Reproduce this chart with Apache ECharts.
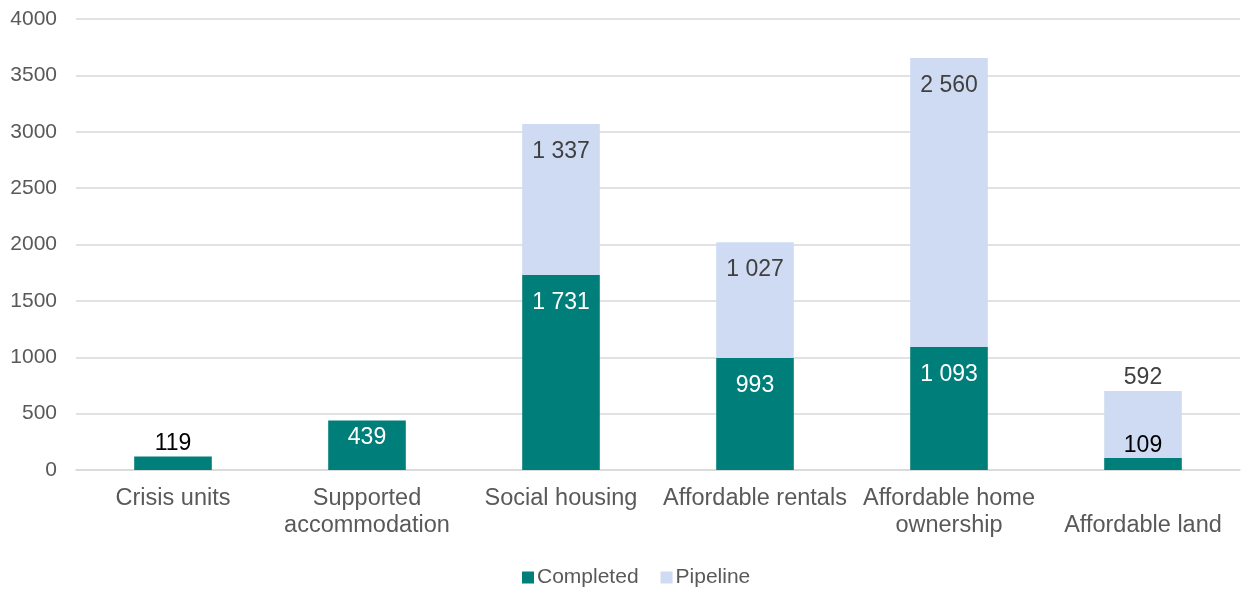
<!DOCTYPE html>
<html>
<head>
<meta charset="utf-8">
<script src="https://cdn.jsdelivr.net/npm/echarts@6/dist/echarts.min.js"></script>
<style>
  html, body { margin: 0; padding: 0; background: #fff; }
  #chart { width: 1246px; height: 590px; }
</style>
</head>
<body>
<div id="chart"></div>
<script>
var categories = ['Crisis units', 'Supported accommodation', 'Social housing', 'Affordable rentals', 'Affordable home ownership', 'Affordable land'];
var completed = [119, 439, 1731, 993, 1093, 109];
var pipeline = [null, null, 1337, 1027, 2560, 592];
var yTicks = [0, 500, 1000, 1500, 2000, 2500, 3000, 3500, 4000];

// how the category names wrap on the axis
var wrapped = {
    'Supported accommodation': 'Supported\naccommodation',
    'Affordable home ownership': 'Affordable home\nownership',
    'Affordable land': '\nAffordable land'
};

function fmt(v) {
    // thousands with a space, like 1 337
    return String(v).replace(/\B(?=(\d{3})+(?!\d))/g, ' ');
}

var chart = echarts.init(document.getElementById('chart'));

// small bars get their label above, in black
var completedData = completed.map(function (v) {
    var item = { value: v };
    if (v < 200) {
        item.label = { position: 'top', color: '#000', distance: 1 };
    } else if (v < 600) {
        item.label = { distance: 6 };
    }
    return item;
});
var pipelineData = pipeline.map(function (v) {
    if (v == null) return null;
    var item = { value: v };
    if (v < 700) {
        item.label = { position: 'top', distance: 2 };
    }
    return item;
});

var option = {
    backgroundColor: '#fff',
    textStyle: { fontFamily: 'Liberation Sans, Arial, sans-serif' },
    grid: { left: 76, right: 6, top: 19, bottom: 120 },
    legend: {
        left: 517,
        bottom: -3,
        itemWidth: 12,
        itemHeight: 12,
        itemGap: 22,
        icon: 'rect',
        textStyle: { fontSize: 21, color: '#595959', padding: [0, 0, 0, -2] },
        data: ['Completed', 'Pipeline']
    },
    xAxis: {
        type: 'category',
        data: categories,
        axisTick: { show: false },
        axisLine: { lineStyle: { color: '#d9d9d9', width: 1.5 } },
        axisLabel: {
            interval: 0,
            fontSize: 23.5,
            lineHeight: 27,
            color: '#595959',
            margin: 15,
            formatter: function (v) { return wrapped[v] || v; }
        }
    },
    yAxis: {
        type: 'value',
        min: yTicks[0],
        max: yTicks[yTicks.length - 1],
        interval: 500,
        axisLine: { show: false },
        axisTick: { show: false },
        splitLine: { lineStyle: { color: '#d9d9d9', width: 1.5 } },
        axisLabel: {
            fontSize: 21,
            color: '#595959',
            margin: 19,
            formatter: function (v) { return String(v); }
        }
    },
    series: [{
        name: 'Completed',
        type: 'bar',
        stack: 'total',
        barWidth: '40%',
        itemStyle: { color: '#007e79' },
        label: {
            show: true,
            position: 'insideTop',
            distance: 16,
            fontSize: 23,
            color: '#fff',
            formatter: function (p) { return fmt(p.value); }
        },
        data: completedData
    }, {
        name: 'Pipeline',
        type: 'bar',
        stack: 'total',
        barWidth: '40%',
        itemStyle: { color: '#cedbf2' },
        label: {
            show: true,
            position: 'insideTop',
            distance: 16,
            fontSize: 23,
            color: '#404040',
            formatter: function (p) { return fmt(p.value); }
        },
        data: pipelineData
    }]
};
chart.setOption(option);
</script>
</body>
</html>
